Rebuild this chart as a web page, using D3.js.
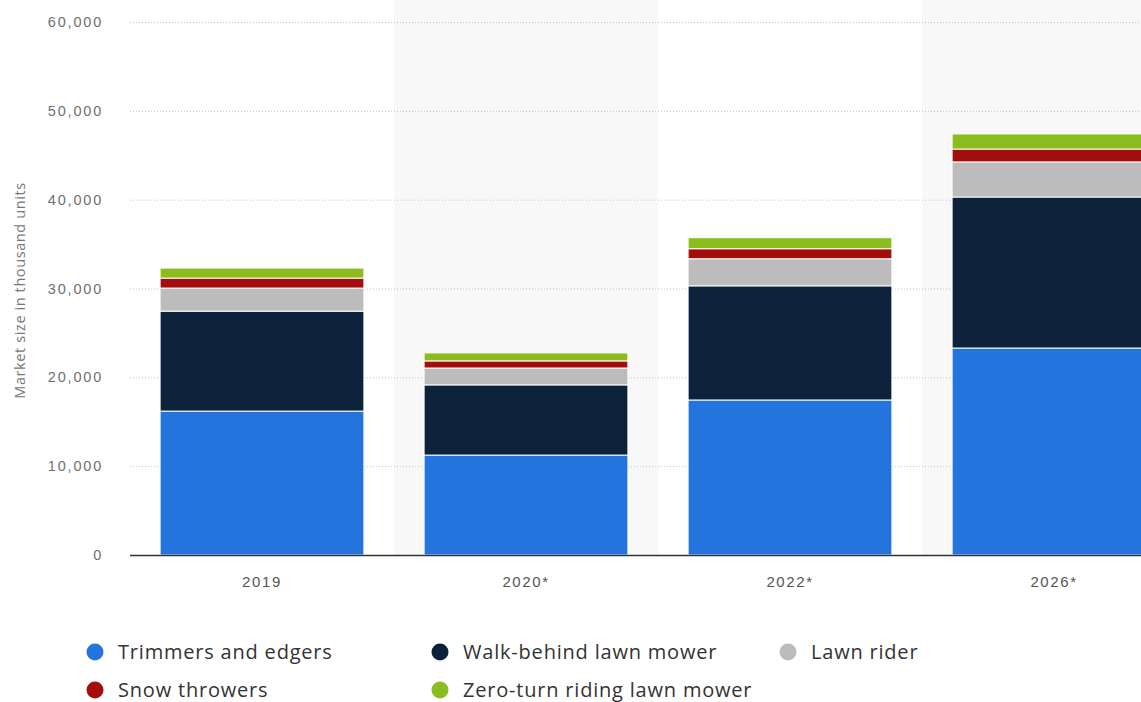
<!DOCTYPE html>
<html>
<head>
<meta charset="utf-8">
<script src="https://cdn.jsdelivr.net/npm/d3@7"></script>
<style>
  body { margin: 0; background: #fff; }
  svg { display: block; font-family: 'Open Sans', sans-serif; }
</style>
</head>
<body>
<script>
// years on the x axis (* = forecast)
var years = ['2019', '2020*', '2022*', '2026*']

// stack order, bottom to top
var seriesNames = ['Trimmers and edgers', 'Walk-behind lawn mower', 'Lawn rider', 'Snow throwers', 'Zero-turn riding lawn mower']
var seriesColors = ['#2374dd', '#0c213a', '#bcbcbc', '#a20d0d', '#8cbd1f']

// values in thousand units
var trimmers = [16200, 11250, 17450, 23300]
var walkBehind = [11250, 7900, 12850, 17000]
var lawnRider = [2600, 1900, 3050, 3950]
var snowThrowers = [1120, 800, 1130, 1450]
var zeroTurn = [1130, 900, 1240, 1700]

var yTicks = [0, 10000, 20000, 30000, 40000, 50000, 60000]

var width = 1141
var height = 702
var plotLeft = 130
var plotTop = 22
var plotBottom = 555

var rows = years.map(function(y, i) {
    return {
        year: y,
        'Trimmers and edgers': trimmers[i],
        'Walk-behind lawn mower': walkBehind[i],
        'Lawn rider': lawnRider[i],
        'Snow throwers': snowThrowers[i],
        'Zero-turn riding lawn mower': zeroTurn[i]
    }
})

var svg = d3.select('body').append('svg')
    .attr('width', width)
    .attr('height', height)

var x = d3.scaleBand().domain(years).range([plotLeft, plotLeft + 4 * 264]).paddingInner(0.228).paddingOuter(0.114)
var y = d3.scaleLinear().domain([0, 60000]).range([plotBottom, plotTop])

// light bands behind every second column
var step = x.step()
years.forEach(function(yr, i) {
    if (i % 2 == 1) {
        svg.append('rect')
            .attr('x', x(yr) - step * 0.114)
            .attr('y', 0)
            .attr('width', step)
            .attr('height', plotBottom)
            .attr('fill', '#f8f8f8')
    }
})

// gridlines
svg.append('g')
    .selectAll('line')
    .data(yTicks.filter(d => d > 0))
    .enter().append('line')
        .attr('x1', plotLeft)
        .attr('x2', width)
        .attr('y1', d => y(d) + 0.5)
        .attr('y2', d => y(d) + 0.5)
        .attr('stroke', '#c4c4c4')
        .attr('stroke-dasharray', '1,2')

// y axis labels
var yAxis = d3.axisLeft(y).tickValues(yTicks).tickFormat(d3.format(',')).tickSize(0).tickPadding(0)
var gy = svg.append('g')
    .attr('transform', 'translate(103,0)')
    .call(yAxis)
gy.select('.domain').remove()
gy.selectAll('text')
    .attr('fill', '#707070')
    .style('font-size', '14.5px')
    .style('letter-spacing', '1.8px')

svg.append('text')
    .attr('transform', 'translate(25,' + ((plotTop + plotBottom) / 2 + 2) + ') rotate(-90)')
    .attr('text-anchor', 'middle')
    .attr('fill', '#777')
    .style('font-size', '14.5px')
    .style('letter-spacing', '0.6px')
    .text('Market size in thousand units')

// stacked bars
var stack = d3.stack().keys(seriesNames)
var layers = stack(rows)

svg.append('g')
    .selectAll('g')
    .data(layers)
    .enter().append('g')
        .attr('fill', (d, i) => seriesColors[i])
    .selectAll('rect')
    .data(d => d)
    .enter().append('rect')
        .attr('x', d => x(d.data.year))
        .attr('y', d => y(d[1]))
        .attr('width', x.bandwidth())
        .attr('height', d => y(d[0]) - y(d[1]))
        .attr('stroke', '#fff')
        .attr('stroke-width', 1)

// baseline
svg.append('line')
    .attr('x1', plotLeft)
    .attr('x2', width)
    .attr('y1', plotBottom + 0.5)
    .attr('y2', plotBottom + 0.5)
    .attr('stroke', '#333')
    .attr('stroke-width', 1.5)

// x axis labels
var xAxis = d3.axisBottom(x).tickSize(0).tickPadding(0)
var gx = svg.append('g')
    .attr('transform', 'translate(0,' + (plotBottom + 21) + ')')
    .call(xAxis)
gx.select('.domain').remove()
gx.selectAll('text')
    .attr('fill', '#555')
    .style('font-size', '15px')
    .style('letter-spacing', '1.6px')

// legend
var legendPos = [[95, 652], [440, 652], [788, 652], [95, 690], [440, 690]]
var legend = svg.append('g')
seriesNames.forEach(function(name, i) {
    var g = legend.append('g').attr('transform', 'translate(' + legendPos[i][0] + ',' + legendPos[i][1] + ')')
    g.append('circle')
        .attr('r', 8.5)
        .attr('fill', seriesColors[i])
    g.append('text')
        .attr('x', 23)
        .attr('dy', '0.35em')
        .attr('fill', '#333')
        .style('font-size', '20px')
        .style('letter-spacing', '0.8px')
        .text(name)
})
</script>
</body>
</html>
